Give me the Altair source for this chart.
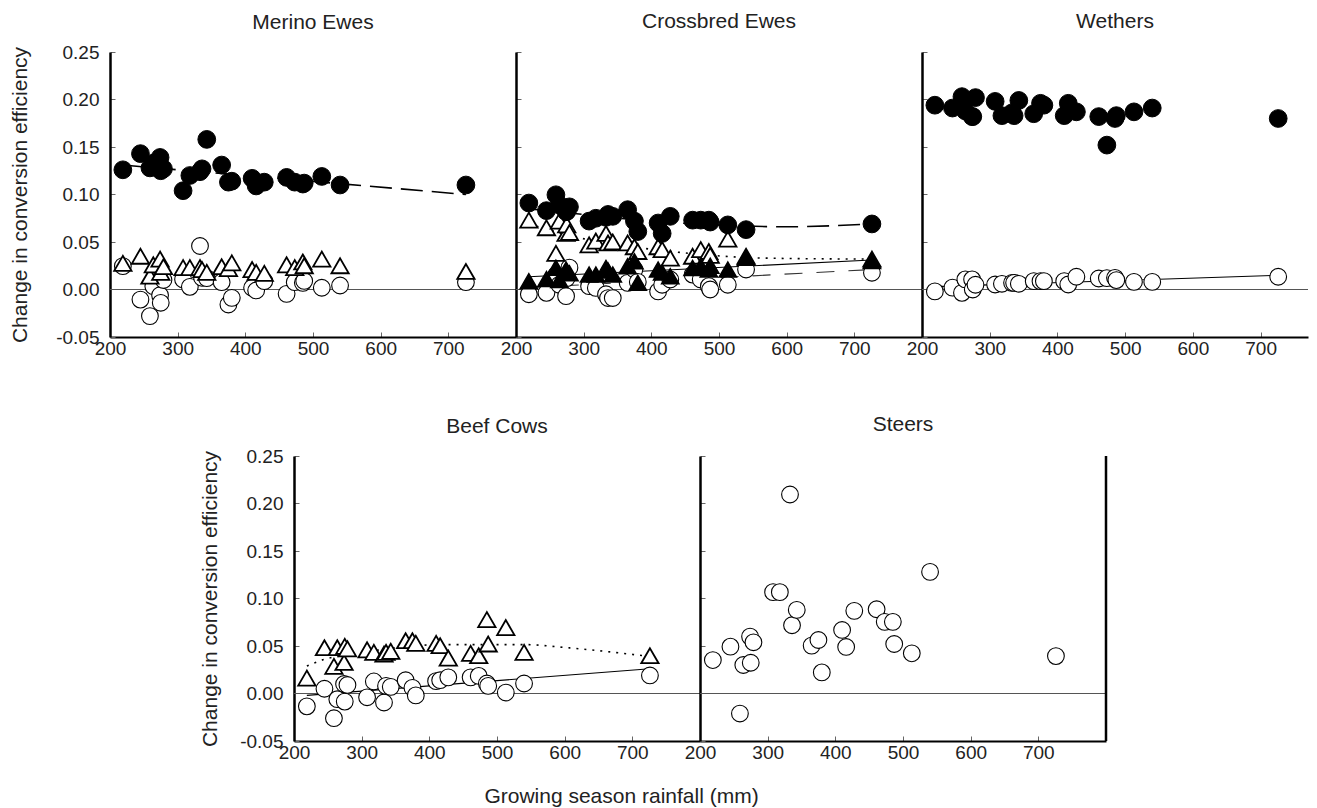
import altair as alt
import pandas as pd

# Growing season rainfall (mm) of the sites
RAIN = [219, 245, 259, 264, 274, 275, 279, 308, 318, 333, 336, 343, 365,
        375, 380, 410, 416, 428, 461, 473, 485, 487, 513, 540, 726]

# Merino Ewes
ME_FILLED = [0.126, 0.143, 0.128, 0.133, 0.139, 0.125, 0.127, 0.104, 0.120, 0.124, 0.127, 0.158, 0.131,
             0.113, 0.114, 0.117, 0.109, 0.113, 0.118, 0.113, 0.111, 0.112, 0.119, 0.110, 0.110]
ME_TRI = [0.0275, 0.035, 0.014, 0.026, 0.032, 0.018, 0.024, 0.023, 0.023, 0.023, 0.021, 0.018, 0.024,
          0.022, 0.028, 0.021, 0.018, 0.017, 0.026, 0.023, 0.029, 0.025, 0.032, 0.025, 0.019]
ME_OPEN = [0.0246, -0.0106, -0.028, 0.0035, -0.006, -0.014, 0.010, 0.0106, 0.0028, 0.0458, 0.0123, 0.012, 0.0077,
           -0.0158, -0.0088, 0.0018, -0.001, 0.0088, -0.0046, 0.0077, 0.007, 0.009, 0.0018, 0.0042, 0.0077]
ME_LINE_X = [219, 726]
ME_LINE_Y = [0.131, 0.100]

# Crossbred Ewes
CB_FILLED = [0.091, 0.083, 0.0997, 0.089, 0.082, 0.082, 0.087, 0.072, 0.075, 0.076, 0.079, 0.077, 0.084,
             0.072, 0.061, 0.070, 0.059, 0.077, 0.073, 0.073, 0.073, 0.071, 0.068, 0.063, 0.069]
CB_TRI = [0.073, 0.065, 0.038, 0.072, 0.059, 0.068, 0.060, 0.047, 0.051, 0.059, 0.049, 0.050, 0.049,
          0.045, 0.040, 0.045, 0.042, 0.033, 0.035, 0.042, 0.040, 0.036, 0.053, 0.035, 0.032]
CB_FTRI = [0.0087, 0.011, 0.023, 0.010, 0.021, 0.019, 0.017, 0.0157, 0.0157, 0.0227, 0.020, 0.0157, 0.0245,
           0.0297, 0.007, 0.021, 0.018, 0.014, 0.0227, 0.0245, 0.021, 0.025, 0.021, 0.0335, 0.030]
CB_OPEN = [-0.005, -0.0035, 0.015, 0.005, -0.007, 0.012, 0.023, 0.0035, 0.0017, -0.005, -0.009, -0.009, 0.007,
           0.021, 0.008, -0.002, 0.005, 0.0105, 0.0157, 0.0105, 0.0035, 0.0, 0.005, 0.021, 0.0176]
CB_FILLED_LINE_X = [219, 300, 400, 500, 600, 726]
CB_FILLED_LINE_Y = [0.085, 0.079, 0.072, 0.068, 0.066, 0.069]
CB_TRI_LINE_X = [219, 290, 430, 570, 726]
CB_TRI_LINE_Y = [0.069, 0.055, 0.040, 0.033, 0.032]
CB_FTRI_LINE_X = [219, 726]
CB_FTRI_LINE_Y = [0.0135, 0.031]
CB_OPEN_LINE_X = [219, 726]
CB_OPEN_LINE_Y = [0.002, 0.021]

# Wethers
WE_FILLED = [0.194, 0.191, 0.203, 0.188, 0.182, 0.182, 0.202, 0.198, 0.183, 0.186, 0.183, 0.199, 0.185,
             0.196, 0.194, 0.183, 0.196, 0.187, 0.182, 0.152, 0.180, 0.183, 0.187, 0.191, 0.180]
WE_OPEN = [-0.002, 0.002, -0.0035, 0.0106, 0.0106, 0.0, 0.005, 0.0053, 0.006, 0.007, 0.007, 0.006, 0.0088,
           0.0088, 0.0088, 0.0088, 0.0053, 0.0134, 0.0116, 0.012, 0.0123, 0.0099, 0.008, 0.008, 0.0134]
WE_LINE_X = [219, 726]
WE_LINE_Y = [0.003, 0.015]

# Beef Cows
BC_TRI = [0.0162, 0.0482, 0.0285, 0.0482, 0.0327, 0.0496, 0.047, 0.046, 0.0433, 0.0415, 0.0433, 0.0444, 0.0556,
          0.0556, 0.0528, 0.0528, 0.0503, 0.0373, 0.0422, 0.0398, 0.0778, 0.0521, 0.0694, 0.0433, 0.0398]
BC_OPEN = [-0.0135, 0.005, -0.026, -0.006, 0.010, -0.0085, 0.009, -0.004, 0.0127, -0.0095, 0.008, 0.007, 0.014,
           0.006, -0.002, 0.013, 0.014, 0.017, 0.017, 0.0185, 0.0105, 0.008, 0.001, 0.0105, 0.019]
BC_OPEN_LINE_X = [219, 726]
BC_OPEN_LINE_Y = [-0.002, 0.026]
BC_TRI_LINE_X = [219, 245, 283, 420, 538, 607, 726]
BC_TRI_LINE_Y = [0.029, 0.036, 0.041, 0.0515, 0.0515, 0.048, 0.039]

# Steers
ST_OPEN = [0.0352, 0.0493, -0.0211, 0.030, 0.0599, 0.0324, 0.0539, 0.1067, 0.1067, 0.2095, 0.0718, 0.088, 0.0504,
           0.0563, 0.0222, 0.0669, 0.049, 0.087, 0.0887, 0.0754, 0.0754, 0.0521, 0.0423, 0.128, 0.0394]

PANEL_TITLES = ["Merino Ewes", "Crossbred Ewes", "Wethers", "Beef Cows", "Steers"]
Y_TITLE = "Change in conversion efficiency"
X_TITLE = "Growing season rainfall (mm)"
X_TICKS = [200, 300, 400, 500, 600, 700]
Y_TICKS = [-0.05, 0.0, 0.05, 0.10, 0.15, 0.20, 0.25]

FONT = "Liberation Sans"
TXT = "#222222"
W = 406
W_LAST = 386
H = 285


def x_enc(dom, with_title=False):
    kw = dict(values=X_TICKS, labelFont=FONT, labelFontSize=19, labelColor=TXT,
              domainColor="black", domainWidth=2, tickColor="#666666", tickWidth=1,
              tickSize=alt.ExprRef(expr="-5"), labelPadding=7, grid=False, labelFlush=False)
    if with_title:
        kw.update(titleFont=FONT, titleFontSize=21, titleFontWeight="normal", titleColor=TXT,
                  titleX=327, titleY=55, titleBaseline="middle", titleAlign="center")
        return alt.X("rain:Q", scale=alt.Scale(domain=dom, nice=False, zero=False),
                     axis=alt.Axis(**kw), title=X_TITLE)
    return alt.X("rain:Q", scale=alt.Scale(domain=dom, nice=False, zero=False),
                 axis=alt.Axis(**kw), title=None)


def y_enc(left, title_x=-90):
    kw = dict(values=Y_TICKS, domainColor="black", domainWidth=2.5, tickColor="#666666", tickWidth=1,
              tickSize=alt.ExprRef(expr="-5"), grid=False)
    if left:
        kw.update(labelFont=FONT, labelFontSize=19, labelColor=TXT, labelPadding=16,
                  labelExpr="datum.value < 0 ? '-' + format(-datum.value, '.2f') : format(datum.value, '.2f')",
                  titleFont=FONT, titleFontSize=21, titleFontWeight="normal", titleColor=TXT,
                  titleX=title_x, titleY=H / 2, titleBaseline="middle", titleAlign="center", titleAngle=270)
        return alt.Y("val:Q", scale=alt.Scale(domain=[-0.05, 0.25], nice=False, zero=False),
                     axis=alt.Axis(**kw), title=Y_TITLE)
    kw.update(labels=False)
    return alt.Y("val:Q", scale=alt.Scale(domain=[-0.05, 0.25], nice=False, zero=False),
                 axis=alt.Axis(**kw), title=None)


def df(xs, ys):
    return pd.DataFrame({"rain": xs, "val": ys})


def pts(ys, kind, X, Y):
    base = dict(opacity=1, filled=True, stroke="black")
    if kind == "fc":
        m = dict(shape="circle", fill="black", strokeWidth=1, size=315)
    elif kind == "oc":
        m = dict(shape="circle", fill="white", strokeWidth=1.1, size=280)
    elif kind == "ot":
        m = dict(shape="triangle-up", fill="white", strokeWidth=1.8, size=300)
    else:
        m = dict(shape="triangle-up", fill="black", strokeWidth=1.5, size=300)
    return alt.Chart(df(RAIN, ys)).mark_point(**base, **m).encode(x=X, y=Y)


def line(xs, ys, style, X, Y):
    if style == "dash":
        m = dict(strokeDash=[22, 9], strokeWidth=1.6, color="black")
    elif style == "ldash":
        m = dict(strokeDash=[18, 14], strokeWidth=1.1, color="#333333")
    elif style == "dot":
        m = dict(strokeDash=[2, 6], strokeWidth=1.6, color="black")
    else:
        m = dict(strokeWidth=1.1, color="black")
    return alt.Chart(df(xs, ys)).mark_line(interpolate="monotone", **m).encode(x=X, y=Y)


def zero(Y):
    return alt.Chart(pd.DataFrame({"val": [0.0]})).mark_rule(color="#555555", strokeWidth=1).encode(y=Y)


def title(t, off):
    return alt.Title(t, font=FONT, fontSize=21, fontWeight="normal", color=TXT, offset=off,
                     anchor="middle", frame="group")


# Merino Ewes
X1, Y1 = x_enc([200, 800]), y_enc(True, -90)
merino = alt.layer(
    zero(Y1),
    line(ME_LINE_X, ME_LINE_Y, "dash", X1, Y1),
    pts(ME_OPEN, "oc", X1, Y1),
    pts(ME_TRI, "ot", X1, Y1),
    pts(ME_FILLED, "fc", X1, Y1),
).properties(width=W, height=H, title=title(PANEL_TITLES[0], 10))

# Crossbred Ewes
X2, Y2 = x_enc([200, 800]), y_enc(False)
crossbred = alt.layer(
    zero(Y2),
    line(CB_OPEN_LINE_X, CB_OPEN_LINE_Y, "ldash", X2, Y2),
    line(CB_TRI_LINE_X, CB_TRI_LINE_Y, "dot", X2, Y2),
    line(CB_FTRI_LINE_X, CB_FTRI_LINE_Y, "solid", X2, Y2),
    line(CB_FILLED_LINE_X, CB_FILLED_LINE_Y, "dash", X2, Y2),
    pts(CB_OPEN, "oc", X2, Y2),
    pts(CB_TRI, "ot", X2, Y2),
    pts(CB_FTRI, "ft", X2, Y2),
    pts(CB_FILLED, "fc", X2, Y2),
).properties(width=W, height=H, title=title(PANEL_TITLES[1], 20))

# Wethers
X3, Y3 = x_enc([200, 770]), y_enc(False)
wethers = alt.layer(
    zero(Y3),
    line(WE_LINE_X, WE_LINE_Y, "solid", X3, Y3),
    pts(WE_OPEN, "oc", X3, Y3),
    pts(WE_FILLED, "fc", X3, Y3),
).properties(width=W_LAST, height=H, title=title(PANEL_TITLES[2], 20))

# Beef Cows
X4, Y4 = x_enc([200, 800], with_title=True), y_enc(True, -84)
beef = alt.layer(
    zero(Y4),
    line(BC_OPEN_LINE_X, BC_OPEN_LINE_Y, "solid", X4, Y4),
    line(BC_TRI_LINE_X, BC_TRI_LINE_Y, "dot", X4, Y4),
    pts(BC_OPEN, "oc", X4, Y4),
    pts(BC_TRI, "ot", X4, Y4),
).properties(width=W, height=H, title=title(PANEL_TITLES[3], 10))

# Steers
X5, Y5 = x_enc([200, 800]), y_enc(False)
border = alt.Chart(pd.DataFrame({"val": [0.0]})).mark_rule(color="black", strokeWidth=2.5).encode(
    x=alt.value(W), y=alt.value(0), y2=alt.value(H))
steers = alt.layer(
    zero(Y5),
    pts(ST_OPEN, "oc", X5, Y5),
    border,
).properties(width=W, height=H, title=title(PANEL_TITLES[4], 20))

spacer = alt.Chart(pd.DataFrame({"a": [0]})).mark_point(opacity=0).encode(
    x=alt.X("a:Q", axis=None), y=alt.Y("a:Q", axis=None)).properties(width=184, height=H)

top = alt.hconcat(merino, crossbred, wethers, spacing=0, bounds="flush")
bottom = alt.hconcat(spacer, beef, steers, spacing=0, bounds="flush")

chart = alt.vconcat(top, bottom, spacing=54).properties(
    padding={"left": 0, "top": 2, "right": 0, "bottom": 0}, background="white"
).configure_view(stroke="transparent")

chart.save("out.html", embed_options={"renderer": "svg", "actions": False})
